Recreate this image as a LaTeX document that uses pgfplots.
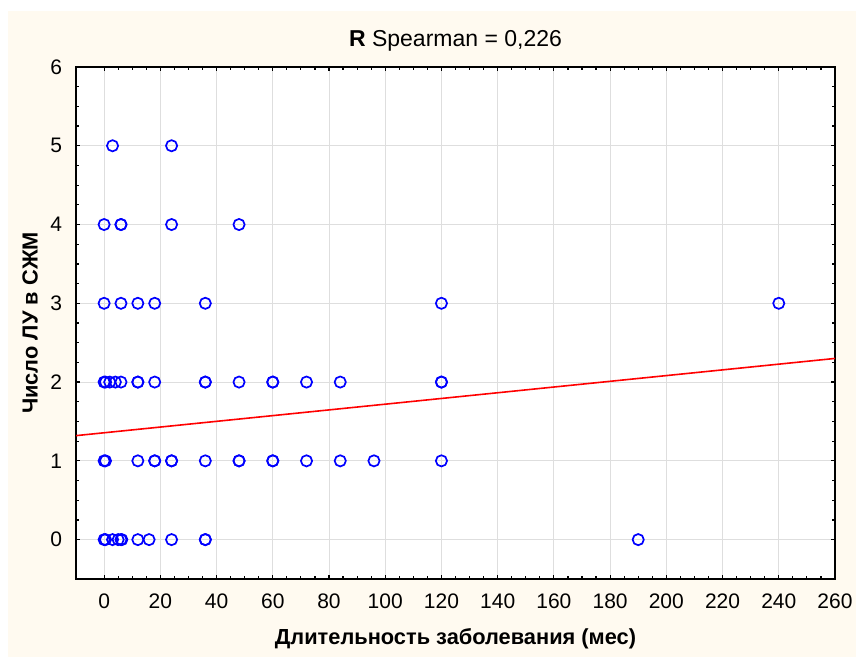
\documentclass[border=0pt]{standalone}
\usepackage{fontspec}
\setmainfont{Liberation Sans}
\usepackage{pgfplots}
\pgfplotsset{compat=1.18}
\definecolor{cream}{RGB}{255,250,240}
\definecolor{gridgray}{RGB}{222,222,222}

\pgfplotstableread{
x y
0 0
0.5 0
3 0
5 0
6 0
6.3 0
12 0
16 0
24 0
36 0
36 0
190 0
0 1
0.5 1
12 1
18 1
18 1
24 1
24 1
36 1
48 1
48 1
60 1
60 1
72 1
84 1
96 1
120 1
0 2
0.5 2
2 2
4 2
6 2
12 2
12 2
18 2
36 2
36 2
48 2
60 2
60 2
72 2
84 2
120 2
120 2
0 3
6 3
12 3
18 3
36 3
120 3
240 3
0 4
6 4
6 4
24 4
48 4
3 5
24 5
}\patients

\begin{document}
\begin{tikzpicture}
% page background: white strip, then cream panel
\fill[white] (-38pt,-39pt) rectangle (390pt,289.5pt);
\fill[cream] (-34pt,-39pt) rectangle (390pt,284pt);
\begin{axis}[
    scale only axis,
    width=379.5pt, height=256pt,
    at={(0,0)}, anchor=south west,
    xmin=-10, xmax=260, ymin=-0.5, ymax=6,
    xtick={0,20,...,260}, ytick={0,1,...,6},
    minor x tick num=3, minor y tick num=3,
    tick align=inside,
    major tick length=2.2pt, minor tick length=1.3pt,
    tick style={black, line width=0.6pt},
    axis line style={black, line width=1pt},
    grid=major,
    grid style={gridgray, line width=0.5pt},
    axis background/.style={fill=white},
    /pgf/number format/assume math mode=true,
    ticklabel style={font=\fontsize{10.5}{12}\selectfont},
    xticklabel style={yshift=-4pt, inner xsep=0pt},
    yticklabel style={xshift=-3.5pt},
    title={\textbf{R} Spearman = 0,226},
    title style={font=\fontsize{11.5}{13}\selectfont, at={(axis description cs:0.5,1)}, anchor=base, yshift=4pt},
    xlabel={Длительность заболевания (мес)},
    xlabel style={font=\fontsize{10.9}{12}\selectfont\bfseries, at={(axis description cs:0.5,0)}, anchor=center, yshift=-30pt},
    ylabel={Число ЛУ в СЖМ},
    ylabel style={font=\fontsize{10.9}{12}\selectfont\bfseries, at={(axis description cs:0,0.5)}, anchor=center, yshift=23pt},
]
\addplot[only marks, mark=o, mark size=2.8pt, color=blue, mark options={line width=0.85pt}] table[x=x, y=y] {\patients};
% regression line
\addplot[red, line width=0.8pt] coordinates {(-10,1.32) (260,2.30)};
\end{axis}
\end{tikzpicture}
\end{document}
